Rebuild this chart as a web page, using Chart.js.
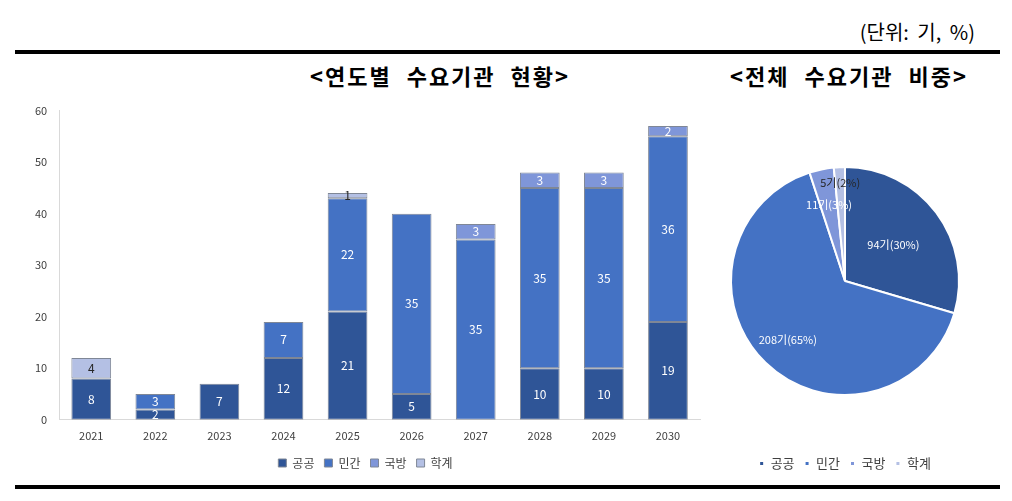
<!DOCTYPE html>
<html>
<head>
<meta charset="utf-8">
<script src="https://cdn.jsdelivr.net/npm/chart.js@4.4.1/dist/chart.umd.min.js"></script>
<style>
    body { margin: 0; width: 1012px; height: 501px; background: #fff; position: relative; overflow: hidden; font-family: "Noto Sans CJK KR", sans-serif; }
    .unit { position: absolute; right: 37px; top: 17px; font-size: 20px; word-spacing: 4px; color: #000; }
    .rule { position: absolute; left: 15px; width: 985px; height: 4px; background: #000; }
    .title { position: absolute; top: 59px; font-size: 22px; font-weight: bold; letter-spacing: 2px; word-spacing: 8px; color: #000; transform: translateX(-50%); white-space: nowrap; line-height: 32px; }
    #barBox { position: absolute; left: 15px; top: 100px; width: 700px; height: 379px; }
    #pieBox { position: absolute; left: 720px; top: 115px; width: 250px; height: 365px; }
</style>
</head>
<body>
<div class="unit">(단위: 기, %)</div>
<div class="rule" style="top:50px"></div>
<div class="title" style="left:440px">&lt;연도별 수요기관 현황&gt;</div>
<div class="title" style="left:849px">&lt;전체 수요기관 비중&gt;</div>
<div id="barBox"><canvas id="barChart"></canvas></div>
<div id="pieBox"><canvas id="pieChart"></canvas></div>
<div class="rule" style="top:485px"></div>

<script>
// 데이터
const years = ['2021', '2022', '2023', '2024', '2025', '2026', '2027', '2028', '2029', '2030'];
const seriesNames = ['공공', '민간', '국방', '학계'];
const publicValues = [8, 2, 7, 12, 21, 5, 0, 10, 10, 19];
const privateValues = [0, 3, 0, 7, 22, 35, 35, 35, 35, 36];
const defenseValues = [0, 0, 0, 0, 0, 0, 3, 3, 3, 2];
const academiaValues = [4, 0, 0, 0, 1, 0, 0, 0, 0, 0];
const yTicks = [0, 10, 20, 30, 40, 50, 60];

const colors = ['#2f5597', '#4472c4', '#7f96d9', '#b4c0e4'];
const labelColors = ['#ffffff', '#ffffff', '#ffffff', '#262626'];
const font = '"Noto Sans CJK KR", sans-serif';

const totals = [publicValues, privateValues, defenseValues, academiaValues]
    .map(arr => arr.reduce((a, b) => a + b, 0));
const grandTotal = totals.reduce((a, b) => a + b, 0);

// 막대 라벨
const barLabels = {
    id: 'barLabels',
    afterDatasetsDraw(chart) {
        const ctx = chart.ctx;
        ctx.save();
        ctx.font = '12px ' + font;
        ctx.textAlign = 'center';
        ctx.textBaseline = 'middle';
        chart.data.datasets.forEach((ds, i) => {
            chart.getDatasetMeta(i).data.forEach((bar, j) => {
                if (!ds.data[j]) return;
                ctx.fillStyle = labelColors[i];
                ctx.fillText(ds.data[j], bar.x, (bar.y + bar.base) / 2);
            });
        });
        ctx.restore();
    }
};

// 원형 라벨
const pieRadiusFrac = [0.53, 0.72, 0.68, 0.86];
const pieLabels = {
    id: 'pieLabels',
    afterDatasetsDraw(chart) {
        const ctx = chart.ctx;
        ctx.save();
        ctx.font = '11px ' + font;
        ctx.textAlign = 'center';
        ctx.textBaseline = 'middle';
        chart.getDatasetMeta(0).data.forEach((arc, i) => {
            const mid = (arc.startAngle + arc.endAngle) / 2;
            const r = arc.outerRadius * pieRadiusFrac[i];
            const pct = Math.round(totals[i] / grandTotal * 100);
            ctx.fillStyle = labelColors[i];
            ctx.fillText(totals[i] + '기(' + pct + '%)', arc.x + Math.cos(mid) * r, arc.y + Math.sin(mid) * r);
        });
        ctx.restore();
    }
};

new Chart(document.getElementById('barChart'), {
    type: 'bar',
    data: {
        labels: years,
        datasets: [publicValues, privateValues, defenseValues, academiaValues].map((vals, i) => ({
            label: seriesNames[i],
            data: vals,
            backgroundColor: colors[i],
            borderColor: '#7f8796',
            borderWidth: 1,
            borderSkipped: false,
            categoryPercentage: 1,
            barPercentage: 0.62
        }))
    },
    options: {
        responsive: true,
        maintainAspectRatio: false,
        animation: false,
        layout: { padding: { top: 0, right: 15, left: 16 } },
        plugins: {
            tooltip: { enabled: false },
            legend: {
                position: 'bottom',
                labels: { boxWidth: 8, boxHeight: 8, padding: 10, color: '#404040', font: { family: font, size: 12 } }
            }
        },
        scales: {
            x: {
                stacked: true,
                grid: { display: false },
                border: { color: '#d9d9d9' },
                afterFit(axis) { axis.height += 4; },
                ticks: { color: '#404040', font: { family: font, size: 11 }, padding: 1 }
            },
            y: {
                stacked: true,
                min: 0,
                max: 60,
                afterBuildTicks(axis) { axis.ticks = yTicks.map(v => ({ value: v })); },
                grid: { display: false },
                border: { color: '#d9d9d9' },
                ticks: { color: '#404040', font: { family: font, size: 11 }, padding: 4 }
            }
        }
    },
    plugins: [barLabels]
});

new Chart(document.getElementById('pieChart'), {
    type: 'pie',
    data: {
        labels: seriesNames,
        datasets: [{
            data: totals,
            backgroundColor: colors,
            borderColor: '#ffffff',
            borderWidth: 2
        }]
    },
    options: {
        responsive: true,
        maintainAspectRatio: false,
        animation: false,
        radius: 114,
        plugins: {
            tooltip: { enabled: false },
            legend: {
                position: 'bottom',
                labels: { boxWidth: 5, boxHeight: 5, padding: 10, color: '#404040', font: { family: font, size: 13 } }
            }
        }
    },
    plugins: [pieLabels]
});
</script>
</body>
</html>
